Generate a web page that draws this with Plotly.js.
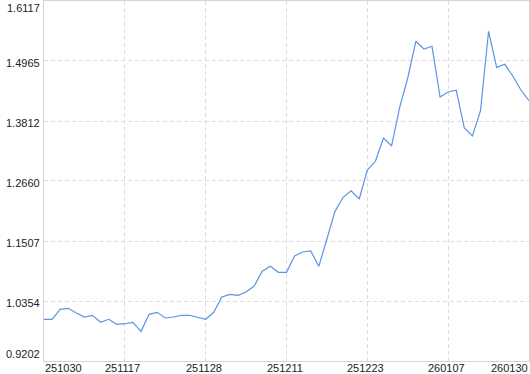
<!DOCTYPE html>
<html>
<head>
<meta charset="utf-8">
<script src="https://cdn.plot.ly/plotly-3.0.1.min.js"></script>
<style>
  html, body { margin: 0; padding: 0; background: #fff; }
  #chart { width: 530px; height: 374px; }
</style>
</head>
<body>
<div id="chart"></div>
<script>
// Sample index (one point per observation)
const pointIndex = [
  0,1,2,3,4,5,6,7,8,9,
  10,11,12,13,14,15,16,17,18,19,
  20,21,22,23,24,25,26,27,28,29,
  30,31,32,33,34,35,36,37,38,39,
  40,41,42,43,44,45,46,47,48,49,
  50,51,52,53,54,55,56,57,58,59,
  60
];
const values = [
  1.0003, 1.0003, 1.0195, 1.0214, 1.0124, 1.0047, 1.0080, 0.9945, 1.0003, 0.9907,
  0.9918, 0.9945, 0.9772, 1.0099, 1.0137, 1.0028, 1.0047, 1.0080, 1.0080, 1.0041,
  1.0003, 1.0137, 1.0431, 1.0483, 1.0464, 1.0527, 1.0643, 1.0925, 1.1021, 1.0906,
  1.0906, 1.1219, 1.1296, 1.1315, 1.1021, 1.1545, 1.2077, 1.2346, 1.2473, 1.2314,
  1.2871, 1.3038, 1.3485, 1.3332, 1.4075, 1.4638, 1.5343, 1.5195, 1.5247, 1.4273,
  1.4369, 1.4402, 1.3677, 1.3524, 1.4010, 1.5535, 1.4843, 1.4901, 1.4676, 1.4407,
  1.4202
];
const xTickPos = [0, 10, 20, 30, 40, 50, 60];
const xTickLabels = ['251030', '251117', '251128', '251211', '251223', '260107', '260130'];
const yTickVals = [0.9202, 1.0354, 1.1507, 1.2660, 1.3812, 1.4965, 1.6117];
const yTickLabels = ['0.9202', '1.0354', '1.1507', '1.2660', '1.3812', '1.4965', '1.6117'];

const font = { family: 'Liberation Sans, Arial, sans-serif', size: 11, color: '#222' };
const last = xTickPos.length - 1;
const lastY = yTickVals.length - 1;

const trace = {
  x: pointIndex,
  y: values,
  type: 'scatter',
  mode: 'lines',
  line: { color: '#5a95e6', width: 1.2 },
  hoverinfo: 'skip'
};

// x-axis labels: first left-aligned, last right-aligned, others centred
const xLabelAnnotations = xTickLabels.map((t, i) => ({
  xref: 'x', yref: 'paper', x: xTickPos[i], y: 0,
  xanchor: i === 0 ? 'left' : (i === last ? 'right' : 'center'),
  yanchor: 'top',
  xshift: i === 0 ? -1 : (i === last ? 1 : -2),
  yshift: 1,
  text: t, showarrow: false, font: font
}));

// y-axis labels: right-aligned just left of the axis, slightly below the grid line
const yLabelAnnotations = yTickLabels.map((t, i) => ({
  xref: 'paper', yref: 'y', x: 0, y: yTickVals[i],
  xanchor: 'right',
  yanchor: i === 0 ? 'bottom' : (i === lastY ? 'top' : 'middle'),
  xshift: -2,
  yshift: i === 0 ? -1 : (i === lastY ? 1 : -2),
  text: t, showarrow: false, font: font
}));

const layout = {
  width: 530,
  height: 374,
  margin: { l: 44, r: 1, t: 1, b: 13, pad: 0 },
  paper_bgcolor: '#fff',
  plot_bgcolor: '#fff',
  showlegend: false,
  font: font,
  xaxis: {
    range: [xTickPos[0], xTickPos[last]],
    tickmode: 'array',
    tickvals: xTickPos,
    showticklabels: false,
    ticks: '',
    showgrid: true,
    gridcolor: '#dcdcdc',
    griddash: '4px,3px',
    gridwidth: 1,
    showline: true,
    linecolor: '#d4d4d4',
    linewidth: 1,
    mirror: true,
    zeroline: false,
    fixedrange: true
  },
  yaxis: {
    range: [yTickVals[0], yTickVals[lastY]],
    tickmode: 'array',
    tickvals: yTickVals,
    showticklabels: false,
    ticks: '',
    showgrid: true,
    gridcolor: '#dcdcdc',
    griddash: '4px,3px',
    gridwidth: 1,
    showline: true,
    linecolor: '#d4d4d4',
    linewidth: 1,
    mirror: true,
    zeroline: false,
    fixedrange: true
  },
  annotations: xLabelAnnotations.concat(yLabelAnnotations)
};

Plotly.newPlot('chart', [trace], layout, { staticPlot: true, displayModeBar: false });
</script>
</body>
</html>
